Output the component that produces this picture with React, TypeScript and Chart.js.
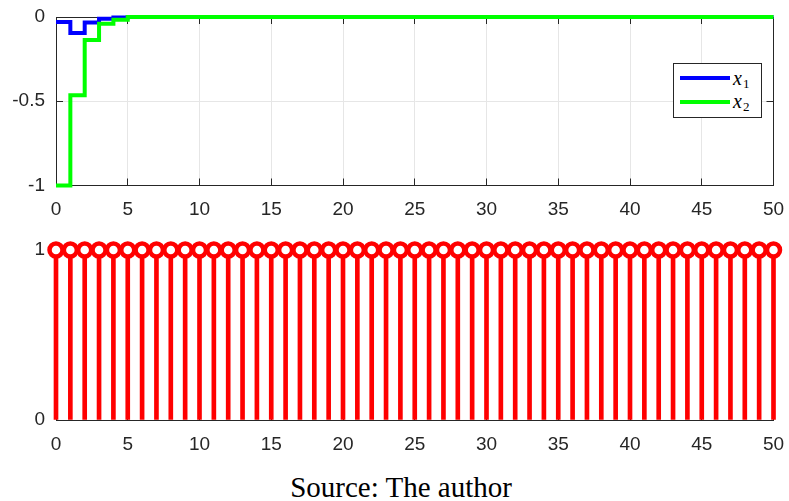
import React, { useEffect, useRef } from "react";
import { Chart, registerables } from "chart.js";

Chart.register(...registerables);

// ---- data ----
const kSteps = [
  0, 1, 2, 3, 4, 5, 6, 7, 8, 9, 10, 11, 12, 13, 14, 15, 16, 17, 18, 19, 20,
  21, 22, 23, 24, 25, 26, 27, 28, 29, 30, 31, 32, 33, 34, 35, 36, 37, 38, 39,
  40, 41, 42, 43, 44, 45, 46, 47, 48, 49, 50,
];
const x1Values = [
  -0.03, -0.095, -0.032, -0.01, -0.003, 0, 0, 0, 0, 0, 0, 0, 0, 0, 0, 0, 0, 0,
  0, 0, 0, 0, 0, 0, 0, 0, 0, 0, 0, 0, 0, 0, 0, 0, 0, 0, 0, 0, 0, 0, 0, 0, 0, 0,
  0, 0, 0, 0, 0, 0, 0,
];
const x2Values = [
  -1, -0.465, -0.137, -0.04, -0.017, 0, 0, 0, 0, 0, 0, 0, 0, 0, 0, 0, 0, 0, 0,
  0, 0, 0, 0, 0, 0, 0, 0, 0, 0, 0, 0, 0, 0, 0, 0, 0, 0, 0, 0, 0, 0, 0, 0, 0, 0,
  0, 0, 0, 0, 0, 0,
];
const stemValues = [
  1, 1, 1, 1, 1, 1, 1, 1, 1, 1, 1, 1, 1, 1, 1, 1, 1, 1, 1, 1, 1, 1, 1, 1, 1, 1,
  1, 1, 1, 1, 1, 1, 1, 1, 1, 1, 1, 1, 1, 1, 1, 1, 1, 1, 1, 1, 1, 1, 1, 1, 1,
];
const xRange = [0, 50];
const xTickStep = 5;
const topYRange = [-1, 0];
const topYStep = 0.5;
const bottomYRange = [0, 1];
const bottomYStep = 1;
const seriesLabels = ["x1", "x2"];
const captionText = "Source: The author";

// ---- styles ----
const axisColor = "#262626";
const gridColor = "#e6e6e6";
const tickFont = { family: '"Liberation Sans", Arial, sans-serif', size: 19 };

const pts = (vals: number[]) => kSteps.map((k, i) => ({ x: k, y: vals[i] }));
const fmt = (v: any) => String(Number(v) === 0 ? 0 : Number(v));

const fitX = (h: number) => (s: any) => {
  s.height = h;
  s.paddingLeft = 0;
  s.paddingRight = 0;
  s.paddingTop = 0;
  s.paddingBottom = 0;
};
const fitY = (w: number) => (s: any) => {
  s.width = w;
  s.paddingLeft = 0;
  s.paddingRight = 0;
  s.paddingTop = 0;
  s.paddingBottom = 0;
};

function topConfig(): any {
  return {
    type: "line",
    data: {
      datasets: [
        {
          label: seriesLabels[1],
          data: pts(x2Values),
          borderColor: "#00ff00",
          borderWidth: 4,
          stepped: "before",
          pointRadius: 0,
          clip: false,
          order: 0,
          borderJoinStyle: "miter",
        },
        {
          label: seriesLabels[0],
          data: pts(x1Values),
          borderColor: "#0000ff",
          borderWidth: 4,
          stepped: "before",
          pointRadius: 0,
          clip: false,
          order: 1,
          borderJoinStyle: "miter",
        },
      ],
    },
    options: {
      animation: false,
      responsive: false,
      events: [],
      layout: { padding: { left: 0, right: 15.5, top: 17, bottom: 0 } },
      plugins: { legend: { display: false }, tooltip: { enabled: false } },
      scales: {
        x: {
          type: "linear",
          position: "bottom",
          min: xRange[0],
          max: xRange[1],
          ticks: { stepSize: xTickStep, font: tickFont, color: axisColor, padding: 20, maxRotation: 0, autoSkip: false, callback: fmt },
          grid: { color: gridColor, tickColor: axisColor, tickLength: -7, drawTicks: true },
          border: { color: axisColor, width: 1 },
          afterFit: fitX(44.5),
        },
        x2: {
          type: "linear",
          position: "top",
          min: xRange[0],
          max: xRange[1],
          ticks: { stepSize: xTickStep, display: false },
          grid: { drawOnChartArea: false, tickColor: axisColor, tickLength: -7 },
          border: { color: axisColor, width: 1 },
          afterFit: fitX(0),
        },
        y: {
          type: "linear",
          position: "left",
          min: topYRange[0],
          max: topYRange[1],
          ticks: { stepSize: topYStep, font: tickFont, color: axisColor, padding: 18, callback: fmt },
          grid: { color: gridColor, tickColor: axisColor, tickLength: -7 },
          border: { color: axisColor, width: 1 },
          afterFit: fitY(56),
        },
        y2: {
          type: "linear",
          position: "right",
          min: topYRange[0],
          max: topYRange[1],
          ticks: { stepSize: topYStep, display: false },
          grid: { drawOnChartArea: false, tickColor: axisColor, tickLength: -7 },
          border: { color: axisColor, width: 1 },
          afterFit: fitY(0),
        },
      },
    },
  };
}

function bottomConfig(): any {
  return {
    type: "bar",
    data: {
      datasets: [
        {
          type: "line",
          label: "markers",
          data: pts(stemValues),
          showLine: false,
          pointRadius: 6.5,
          pointBorderWidth: 4.5,
          pointBorderColor: "#ff0000",
          pointBackgroundColor: "#ffffff",
          clip: false,
          order: 0,
        },
        {
          type: "bar",
          label: "stems",
          data: pts(stemValues),
          backgroundColor: "#ff0000",
          borderWidth: 0,
          barThickness: 4,
          clip: false,
          order: 1,
        },
      ],
    },
    options: {
      animation: false,
      responsive: false,
      events: [],
      layout: { padding: { left: 0, right: 15.5, top: 20, bottom: 0 } },
      plugins: { legend: { display: false }, tooltip: { enabled: false } },
      scales: {
        x: {
          type: "linear",
          position: "bottom",
          min: xRange[0],
          max: xRange[1],
          offset: false,
          ticks: { stepSize: xTickStep, font: tickFont, color: axisColor, padding: 20.5, maxRotation: 0, autoSkip: false, callback: fmt },
          grid: { offset: false, drawOnChartArea: false, tickColor: axisColor, tickLength: -7 },
          border: { color: axisColor, width: 1 },
          afterFit: fitX(40),
        },
        x2: {
          type: "linear",
          position: "top",
          min: xRange[0],
          max: xRange[1],
          z: 1,
          ticks: { stepSize: xTickStep, display: false },
          grid: { display: false },
          border: { color: axisColor, width: 1 },
          afterFit: fitX(0),
        },
        y: {
          type: "linear",
          position: "left",
          min: bottomYRange[0],
          max: bottomYRange[1],
          ticks: { stepSize: bottomYStep, font: tickFont, color: axisColor, padding: 18, callback: fmt },
          grid: { drawOnChartArea: false, tickColor: axisColor, tickLength: -7 },
          border: { color: axisColor, width: 1 },
          afterFit: fitY(56),
        },
        y2: {
          type: "linear",
          position: "right",
          min: bottomYRange[0],
          max: bottomYRange[1],
          ticks: { stepSize: bottomYStep, display: false },
          grid: { display: false },
          border: { color: axisColor, width: 1 },
          afterFit: fitY(0),
        },
      },
    },
  };
}

const legendLabelStyle: React.CSSProperties = {
  position: "absolute",
  left: 59,
  fontFamily: '"Liberation Serif", "Times New Roman", serif',
  fontStyle: "italic",
  fontSize: 20,
  lineHeight: "20px",
  color: "#000",
  whiteSpace: "nowrap",
};
const subStyle: React.CSSProperties = {
  fontStyle: "normal",
  fontSize: 13,
  position: "relative",
  top: 3,
  marginLeft: 1,
};

export default function App() {
  const topRef = useRef<HTMLCanvasElement>(null);
  const botRef = useRef<HTMLCanvasElement>(null);

  useEffect(() => {
    const c1 = new Chart(topRef.current!, topConfig());
    const c2 = new Chart(botRef.current!, bottomConfig());
    return () => {
      c1.destroy();
      c2.destroy();
    };
  }, []);

  return (
    <div style={{ position: "absolute", left: 0, top: 0, width: 789, height: 501, background: "#fff", overflow: "hidden" }}>
      <canvas ref={topRef} width={789} height={230} style={{ position: "absolute", left: 0, top: 0 }} />
      <canvas ref={botRef} width={789} height={230} style={{ position: "absolute", left: 0, top: 230 }} />
      <div
        style={{
          position: "absolute",
          left: 673,
          top: 63,
          width: 89,
          height: 55,
          boxSizing: "border-box",
          border: "1px solid #262626",
          background: "#fff",
        }}
      >
        <div style={{ position: "absolute", left: 6, top: 12, width: 50, height: 4, background: "#0000ff" }} />
        <div style={{ position: "absolute", left: 6, top: 36.4, width: 50, height: 4, background: "#00ff00" }} />
        <div style={{ ...legendLabelStyle, top: 3.5 }}>
          {seriesLabels[0].charAt(0)}
          <span style={subStyle}>{seriesLabels[0].slice(1)}</span>
        </div>
        <div style={{ ...legendLabelStyle, top: 27.2 }}>
          {seriesLabels[1].charAt(0)}
          <span style={subStyle}>{seriesLabels[1].slice(1)}</span>
        </div>
      </div>
      <div
        style={{
          position: "absolute",
          left: 13,
          top: 473,
          width: 776,
          textAlign: "center",
          fontFamily: '"Liberation Serif", "Times New Roman", serif',
          fontSize: 29,
          lineHeight: "29px",
          color: "#000",
          whiteSpace: "nowrap",
        }}
      >
        {captionText}
      </div>
    </div>
  );
}
